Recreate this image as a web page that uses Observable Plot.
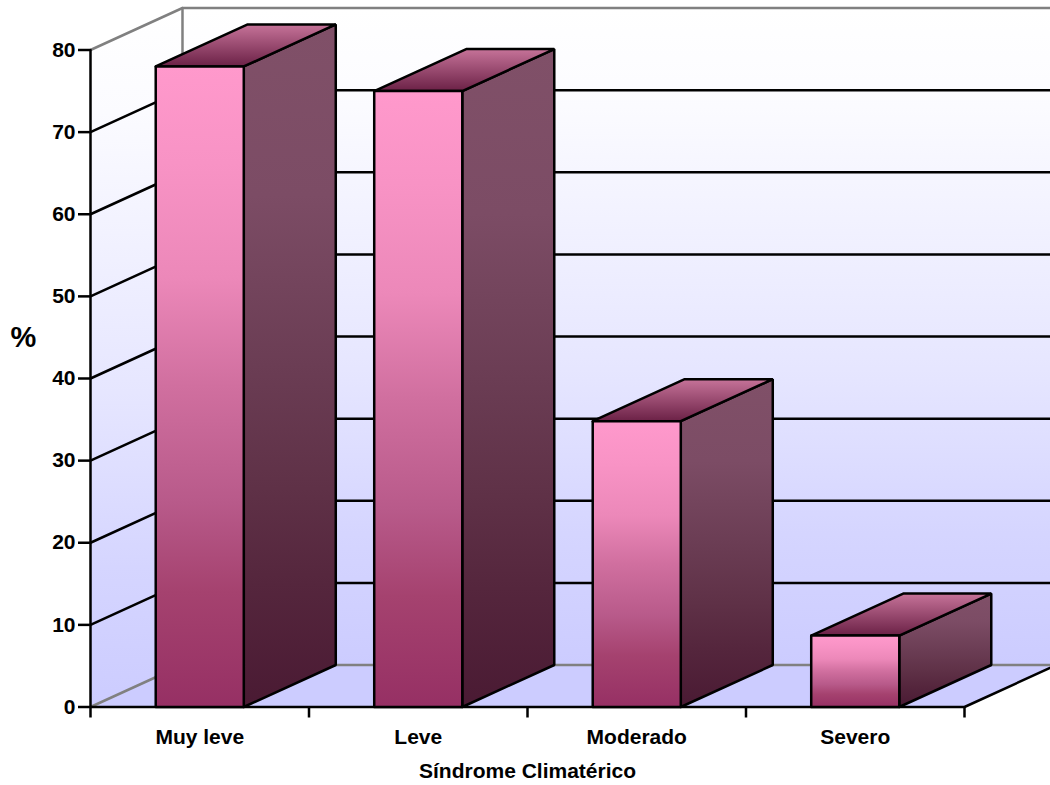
<!DOCTYPE html>
<html>
<head>
<meta charset="utf-8">
<script src="https://cdn.jsdelivr.net/npm/d3@7"></script>
<script src="https://cdn.jsdelivr.net/npm/@observablehq/plot@0.6"></script>
<style>
  html, body { margin: 0; padding: 0; background: #fff; overflow: hidden; }
  svg { display: block; }
</style>
</head>
<body>
<div id="chart"></div>
<script>
// Síndrome climatérico: share of women per severity level
const categories = ["Muy leve", "Leve", "Moderado", "Severo"];
const percentages = [78, 75, 34.8, 8.7];
const yTicks = [0, 10, 20, 30, 40, 50, 60, 70, 80];
const xTicks = [0, 1, 2, 3, 4];
const gridLevels = [10, 20, 30, 40, 50, 60, 70];

// Oblique projection: how far the back plane sits from the front plane, in data units
const depthX = 0.421;
const depthY = 5.114;
const barWidth = 0.403;
const xEnd = categories.length + depthX;
const yTop = 80 + depthY;

const BLACK = "#000";
const EDGE = "#808080";
const LINE = 2.5;

// Closes a polygon so the outline is stroked on every side
const closed = (pts) => [...pts, pts[0]];
const face = (pts, fill, extra = {}) =>
  Plot.line(closed(pts), {
    x: (d) => d[0],
    y: (d) => d[1],
    fill,
    stroke: BLACK,
    strokeWidth: LINE,
    strokeLinejoin: "miter",
    ...extra
  });
const path = (pts, stroke, strokeWidth = LINE) =>
  Plot.line(pts, {x: (d) => d[0], y: (d) => d[1], stroke, strokeWidth, strokeLinejoin: "miter"});

// Vertical gradients shared by the walls and the bar faces, as [offset, colour] stops
const gradients = {
  wall: [[0, "#ffffff"], [0.15, "#fbfbff"], [0.55, "#e6e6ff"], [0.8, "#d5d5ff"], [1, "#ccccff"]],
  barFront: [[0, "#ff99cc"], [0.15, "#f893c5"], [0.33, "#ec88b9"], [0.5, "#d06f9f"], [0.68, "#b85a8a"], [0.82, "#a5426f"], [1, "#963064"]],
  barSide: [[0, "#805068"], [0.25, "#7c4c65"], [0.5, "#6b3d54"], [0.68, "#5f3147"], [0.82, "#55263d"], [1, "#4a1a33"]],
  barTop: [[0, "#c67399"], [1, "#6b2146"]]
};
const defs = () => {
  const d = d3.create("svg:defs");
  for (const [id, stops] of Object.entries(gradients)) {
    const g = d.append("linearGradient").attr("id", id)
      .attr("x1", 0).attr("y1", 0).attr("x2", 0).attr("y2", 1);
    for (const [offset, color] of stops) {
      g.append("stop").attr("offset", offset).attr("stop-color", color);
    }
  }
  return d.node();
};

// Each bar: side, then top, then front so the nearest face is painted last
const barMarks = categories.flatMap((_, i) => {
  const v = percentages[i];
  const x0 = i + 0.5 - barWidth / 2;
  const x1 = x0 + barWidth;
  return [
    face([[x1, 0], [x1 + depthX, depthY], [x1 + depthX, v + depthY], [x1, v]], "url(#barSide)"),
    face([[x0, v], [x1, v], [x1 + depthX, v + depthY], [x0 + depthX, v + depthY]], "url(#barTop)"),
    face([[x0, 0], [x1, 0], [x1, v], [x0, v]], "url(#barFront)")
  ];
});

const labelStyle = {fontWeight: "bold", fontSize: 21, fill: BLACK, lineAnchor: "middle"};

const chart = Plot.plot({
  width: 1050,
  height: 785,
  marginLeft: 90,
  marginRight: 86,
  marginTop: 49.5,
  marginBottom: 78.5,
  x: {domain: [0, categories.length]},
  y: {domain: [0, 80]},
  style: {fontFamily: "'Liberation Sans', Arial, sans-serif", background: "#fff"},
  marks: [
    defs,
    // Back wall, side wall and floor
    Plot.line(closed([[depthX, depthY], [xEnd, depthY], [xEnd, yTop], [depthX, yTop]]),
      {x: (d) => d[0], y: (d) => d[1], fill: "url(#wall)", stroke: "none"}),
    Plot.line(closed([[0, 0], [depthX, depthY], [depthX, yTop], [0, 80]]),
      {x: (d) => d[0], y: (d) => d[1], fill: "url(#wall)", stroke: "none"}),
    Plot.line(closed([[0, 0], [categories.length, 0], [xEnd, depthY], [depthX, depthY]]),
      {x: (d) => d[0], y: (d) => d[1], fill: "#ccccff", stroke: "none"}),
    // Grey frame of the walls
    path([[0, 80], [depthX, yTop], [xEnd, yTop]], EDGE),
    path([[depthX, yTop], [depthX, depthY]], EDGE),
    path([[0, 0], [depthX, depthY], [xEnd, depthY]], EDGE),
    // Gridlines bend around the corner between the two walls
    ...gridLevels.map((v) => path([[0, v], [depthX, v + depthY], [xEnd, v + depthY]], BLACK)),
    // Front edge of the floor
    path([[0, 0], [categories.length, 0], [xEnd, depthY]], BLACK),
    path([[0, 0], [0, 80]], BLACK),
    Plot.axisY({
      ticks: yTicks,
      tickSize: 12,
      tickPadding: 3,
      strokeWidth: LINE,
      stroke: BLACK,
      label: null,
      fontWeight: "bold",
      fontSize: 21,
      color: BLACK
    }),
    Plot.axisX({
      ticks: xTicks,
      tickSize: 11,
      strokeWidth: LINE,
      stroke: BLACK,
      label: null,
      tickFormat: () => ""
    }),
    ...barMarks,
    // Category labels, axis title and unit
    Plot.text(categories, {x: (_, i) => i + 0.5, y: () => 0, text: (d) => d, dy: 30, ...labelStyle}),
    Plot.text(["Síndrome Climatérico"], {x: () => categories.length / 2, y: () => 0, text: (d) => d, dy: 64, ...labelStyle}),
    Plot.text(["%"], {x: () => 0, y: () => 45, text: (d) => d, dx: -67, ...labelStyle, fontSize: 29})
  ]
});

document.getElementById("chart").append(chart);
</script>
</body>
</html>
